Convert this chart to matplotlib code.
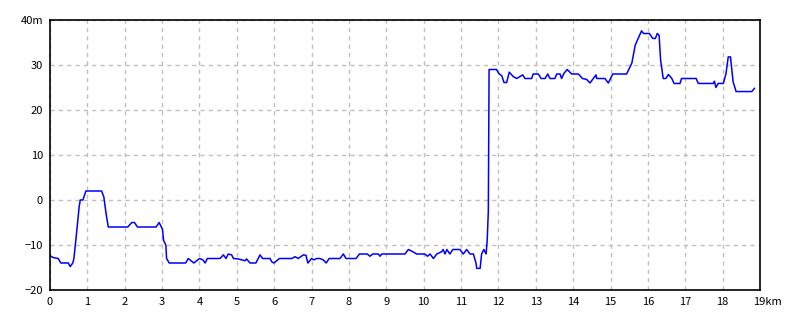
import matplotlib
matplotlib.use('Agg')
import matplotlib.pyplot as plt

plt.rcParams['font.family'] = ['Noto Sans CJK JP', 'DejaVu Sans']

# Elevation profile: distance (km) and height (m)
dist_km = [
    0.00, 0.09, 0.22, 0.29, 0.49, 0.54, 0.61, 0.64, 0.71, 0.78, 0.81, 0.88, 0.96, 1.38, 1.44, 1.50,
    1.56, 2.08, 2.19, 2.26, 2.34, 2.84, 2.92, 3.01, 3.04, 3.10, 3.12, 3.19, 3.63, 3.70, 3.85, 4.00,
    4.09, 4.15, 4.21, 4.55, 4.64, 4.71, 4.77, 4.86, 4.91, 5.04, 5.13, 5.22, 5.26, 5.35, 5.51, 5.62,
    5.69, 5.89, 5.93, 5.99, 6.14, 6.47, 6.56, 6.64, 6.78, 6.85, 6.90, 7.00, 7.06, 7.14, 7.22, 7.31,
    7.39, 7.47, 7.76, 7.85, 7.92, 8.19, 8.28, 8.49, 8.56, 8.64, 8.79, 8.83, 8.88, 9.50, 9.59, 9.71,
    9.81, 10.03, 10.10, 10.17, 10.26, 10.35, 10.48, 10.52, 10.57, 10.62, 10.70, 10.78, 10.97, 11.06,
    11.15, 11.24, 11.33, 11.40, 11.42, 11.51, 11.55, 11.61, 11.67, 11.70, 11.73, 11.75, 11.95, 12.01,
    12.09, 12.15, 12.22, 12.29, 12.40, 12.49, 12.65, 12.71, 12.89, 12.93, 13.07, 13.14, 13.25, 13.32,
    13.38, 13.51, 13.56, 13.65, 13.69, 13.75, 13.84, 13.96, 14.14, 14.25, 14.36, 14.45, 14.54, 14.61,
    14.63, 14.85, 14.94, 15.06, 15.25, 15.43, 15.57, 15.66, 15.74, 15.83, 15.88, 16.04, 16.13, 16.20,
    16.25, 16.30, 16.34, 16.41, 16.48, 16.55, 16.64, 16.70, 16.86, 16.90, 17.29, 17.35, 17.75, 17.78,
    17.82, 17.88, 18.02, 18.09, 18.15, 18.21, 18.28, 18.36, 18.78, 18.85,
]
height_m = [
    -12.4, -12.8, -13, -14, -14, -14.8, -14, -13, -7.4, -1.5, 0, 0, 2, 2, 0.7, -3,
    -6, -6, -5, -5, -6, -6, -5, -6.5, -9, -10, -13, -14, -14, -13, -14, -13,
    -13.3, -14, -13, -13, -12.2, -13, -12, -12.2, -13, -13.1, -13.3, -13.5, -13.1, -14, -14, -12.2,
    -13, -13, -13.7, -14, -13, -13, -12.6, -13, -12.2, -12.3, -14, -13, -13.3, -13, -13, -13.3,
    -14, -13, -13, -12, -13, -13, -12, -12, -12.5, -12, -12, -12.5, -12, -12, -11, -11.5,
    -12, -12, -12.5, -12, -13, -12, -11.5, -11, -12, -11, -12, -11, -11, -12,
    -11, -12, -12, -14, -15.2, -15.2, -12, -11, -12, -8.9, -2.4, 29, 29, 28.1,
    27.6, 26.1, 26.1, 28.4, 27.4, 27, 27.8, 27, 27, 28, 28, 27, 27, 28,
    27, 27, 28, 28, 27, 28.1, 29, 28, 28, 27, 26.8, 26, 27, 27.8,
    27, 27, 26, 28, 28, 28, 30.4, 34.4, 35.9, 37.6, 37, 37, 35.9, 35.9,
    37, 36.6, 31.1, 27, 27, 27.9, 27, 25.9, 25.9, 27, 27, 25.9, 25.9, 26.4,
    25, 25.9, 25.9, 28.1, 31.8, 31.8, 26.3, 24.1, 24.1, 24.8,
]

x_ticks = list(range(0, 20))
x_labels = [str(k) for k in range(0, 19)] + ['']
last_label = '19km'
y_ticks = [-20, -10, 0, 10, 20, 30, 40]
y_labels = ['\u221220', '\u221210', '0', '10', '20', '30', '40m']

fig = plt.figure(figsize=(8, 3.2), dpi=100)
ax = fig.add_axes([50 / 800, 30 / 320, 710 / 800, 270 / 320])

ax.plot(dist_km, height_m, color='#0000ff', lw=1.1)

ax.set_xlim(0, 19)
ax.set_ylim(-20, 40)
ax.set_xticks(x_ticks)
ax.set_xticklabels(x_labels)
ax.set_yticks(y_ticks)
ax.set_yticklabels(y_labels)
ax.grid(True, color='#c0c0c0', linestyle=(0, (3, 3)), lw=1)
ax.tick_params(length=0, labelsize=8, pad=5)
for s in ax.spines.values():
    s.set_color('black')
    s.set_linewidth(1.2)

# "19km" sits with the "19" centred on the last tick
ax.annotate(last_label, xy=(19, 0), xycoords=('data', 'axes fraction'),
            xytext=(-5, -5), textcoords='offset points',
            ha='left', va='top', fontsize=8)

fig.savefig('out.png', dpi=100)
